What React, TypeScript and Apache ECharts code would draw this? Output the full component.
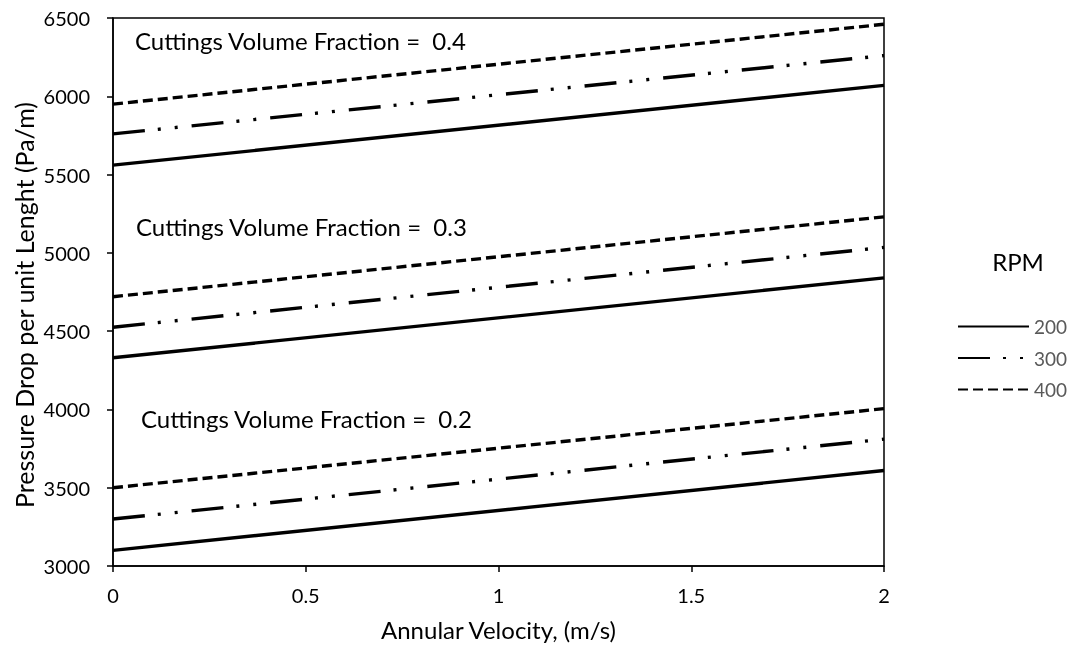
import React, { useEffect, useRef } from "react";
import * as echarts from "echarts";

const velocity = [0, 2];
const rpmNames = ["200", "300", "400"];
// Pressure drop (Pa/m) at velocity 0 and 2, per cuttings fraction
const frac02_200 = [3100, 3610];
const frac02_300 = [3300, 3810];
const frac02_400 = [3500, 4005];
const frac03_200 = [4330, 4840];
const frac03_300 = [4525, 5035];
const frac03_400 = [4720, 5230];
const frac04_200 = [5560, 6070];
const frac04_300 = [5760, 6260];
const frac04_400 = [5950, 6460];
const fractionLabels = ["0.4", "0.3", "0.2"];

const FONT = "Lato, 'Open Sans', sans-serif";

const styles: Record<string, any> = {
  "200": { type: "solid" },
  "300": { type: [32, 13, 3, 14, 3, 14] },
  "400": { type: [10, 5] },
};

function mk(name: string, vals: number[]) {
  return {
    name,
    type: "line",
    data: velocity.map((v, i) => [v, vals[i]]),
    symbol: "none",
    lineStyle: { color: "#000", width: 3.4, cap: "butt", ...styles[name] },
    itemStyle: { color: "#000" },
  };
}

export default function App() {
  const ref = useRef<HTMLDivElement>(null);
  useEffect(() => {
    const chart = echarts.init(ref.current!, null, { renderer: "svg" });
    chart.setOption({
      animation: false,
      textStyle: { fontFamily: FONT },
      grid: {
        left: 113,
        right: 190,
        top: 18,
        bottom: 79,
        show: true,
        borderColor: "#000",
        borderWidth: 1.5,
      },
      legend: {
        data: rpmNames,
        orient: "vertical",
        left: 952,
        top: 312,
        itemWidth: 71,
        itemHeight: 14,
        itemGap: 12.5,
        itemStyle: { color: "rgba(0,0,0,0)", borderWidth: 0, opacity: 0 },
        textStyle: { color: "#595959", fontSize: 19, fontFamily: FONT },
      },
      xAxis: {
        type: "value",
        min: 0,
        max: 2,
        interval: 0.5,
        name: "Annular Velocity, (m/s)",
        nameLocation: "middle",
        nameGap: 51,
        nameTextStyle: { fontSize: 24, color: "#000", fontFamily: FONT },
        axisLine: { lineStyle: { color: "#000", width: 1.5 } },
        axisTick: { show: true, length: 6, lineStyle: { color: "#000", width: 1.5 } },
        axisLabel: { fontSize: 20, color: "#000", margin: 19, fontFamily: FONT },
        splitLine: { show: false },
      },
      yAxis: {
        type: "value",
        min: 3000,
        max: 6500,
        interval: 500,
        axisLine: { show: true, lineStyle: { color: "#000", width: 1.5 } },
        axisTick: { show: true, length: 6, lineStyle: { color: "#000", width: 1.5 } },
        axisLabel: {
          fontSize: 20,
          color: "#000",
          margin: 23,
          fontFamily: FONT,
          formatter: (v: number) => String(v),
        },
        splitLine: { show: false },
      },
      graphic: [
        {
          type: "text",
          x: 24,
          y: 305,
          rotation: Math.PI / 2,
          style: {
            text: "Pressure Drop per unit Lenght (Pa/m)",
            fill: "#000",
            font: `25px ${FONT}`,
            align: "center",
            verticalAlign: "middle",
          },
        },
        {
          type: "text",
          x: 1018,
          y: 261,
          style: { text: "RPM", fill: "#000", font: `24px ${FONT}`, align: "center", verticalAlign: "middle" },
        },
        {
          type: "text",
          left: 135,
          top: 28,
          style: { text: `Cuttings Volume Fraction =  ${fractionLabels[0]}`, fill: "#000", font: `24px ${FONT}` },
        },
        {
          type: "text",
          left: 136,
          top: 214,
          style: { text: `Cuttings Volume Fraction =  ${fractionLabels[1]}`, fill: "#000", font: `24px ${FONT}` },
        },
        {
          type: "text",
          left: 141,
          top: 406,
          style: { text: `Cuttings Volume Fraction =  ${fractionLabels[2]}`, fill: "#000", font: `24px ${FONT}` },
        },
      ],
      series: [
        mk("200", frac04_200),
        mk("300", frac04_300),
        mk("400", frac04_400),
        mk("200", frac03_200),
        mk("300", frac03_300),
        mk("400", frac03_400),
        mk("200", frac02_200),
        mk("300", frac02_300),
        mk("400", frac02_400),
      ],
    });
    return () => chart.dispose();
  }, []);
  return (
    <div
      ref={ref}
      style={{ position: "fixed", left: 0, top: 0, width: 1074, height: 646 }}
    />
  );
}
